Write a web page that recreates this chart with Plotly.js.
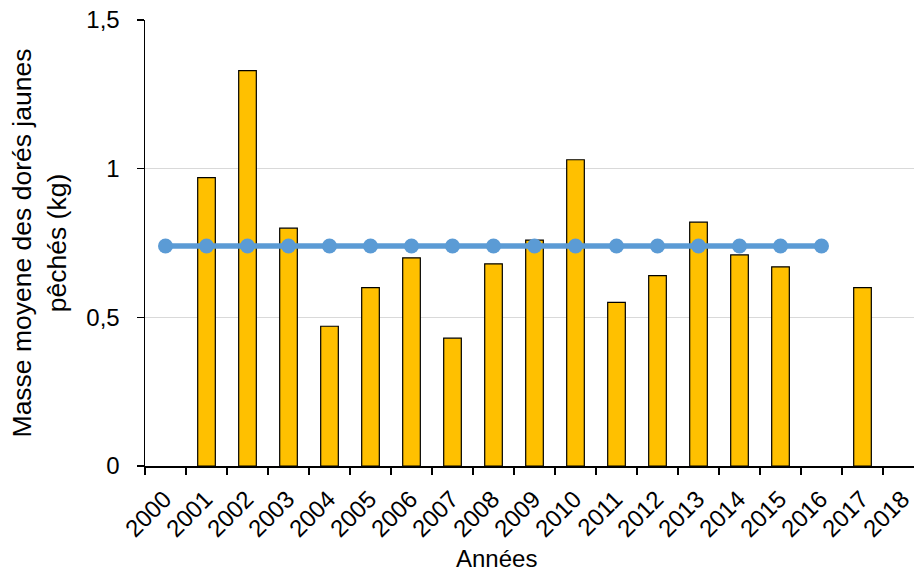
<!DOCTYPE html>
<html>
<head>
<meta charset="utf-8">
<script src="https://cdn.plot.ly/plotly-3.0.1.min.js"></script>
<style>html,body{margin:0;padding:0;background:#fff;}#chart{width:914px;height:575px;}</style>
</head>
<body>
<div id="chart"></div>
<script>
var years = ["2000","2001","2002","2003","2004","2005","2006","2007","2008","2009","2010","2011","2012","2013","2014","2015","2016","2017","2018"];
var masseMoyenne = [null,0.97,1.33,0.80,0.47,0.60,0.70,0.43,0.68,0.76,1.03,0.55,0.64,0.82,0.71,0.67,null,0.60,null];
var lineYears = ["2000","2001","2002","2003","2004","2005","2006","2007","2008","2009","2010","2011","2012","2013","2014","2015","2016"];
var moyenne = [0.74,0.74,0.74,0.74,0.74,0.74,0.74,0.74,0.74,0.74,0.74,0.74,0.74,0.74,0.74,0.74,0.74];
var yTickVals = [0,0.5,1,1.5];

var font = "Liberation Sans, Arial, sans-serif";
var traces = [
  {type:"bar", x:years, y:masseMoyenne, width:0.43,
   marker:{color:"#FFC000", line:{color:"#000000", width:1.2}}, hoverinfo:"x+y"},
  {type:"scatter", mode:"lines+markers", x:lineYears, y:moyenne,
   line:{color:"#5B9BD5", width:5.5}, marker:{color:"#5B9BD5", size:15}}
];
var layout = {
  width:914, height:575,
  margin:{l:145, r:0, t:20, b:109},
  showlegend:false,
  separators:", ",
  paper_bgcolor:"#fff", plot_bgcolor:"#fff",
  font:{family:font, size:24, color:"#000"},
  xaxis:{type:"category", range:[-0.5,18.256], tickangle:-45, tickson:"boundaries",
    ticks:"outside", ticklen:7, tickwidth:1.5, tickcolor:"#000",
    showline:true, linecolor:"#000", linewidth:1.5, showgrid:false,
    ticklabelstandoff:8, ticklabelshift:-1,
    tickfont:{family:font, size:24, color:"#000"}, automargin:false},
  yaxis:{range:[0,1.5], tickvals:yTickVals, ticks:"outside", ticklen:7, tickwidth:1.5, tickcolor:"#000",
    showline:true, linecolor:"#000", linewidth:1.5, showgrid:true, gridcolor:"#d9d9d9", gridwidth:1,
    zeroline:false, ticklabelstandoff:12,
    tickfont:{family:font, size:24, color:"#000"},
    title:{text:"Masse moyene des dorés jaunes<br>pêchés (kg)", font:{family:font, size:26.5, color:"#000"}, standoff:12},
    automargin:false},
  annotations:[{text:"Années", xref:"paper", yref:"paper", x:(496-145)/769, y:-(574-466)/446,
    xanchor:"center", yanchor:"bottom", showarrow:false, font:{family:font, size:24, color:"#000"}}]
};
Plotly.newPlot("chart", traces, layout, {displayModeBar:false, staticPlot:true});
</script>
</body>
</html>
